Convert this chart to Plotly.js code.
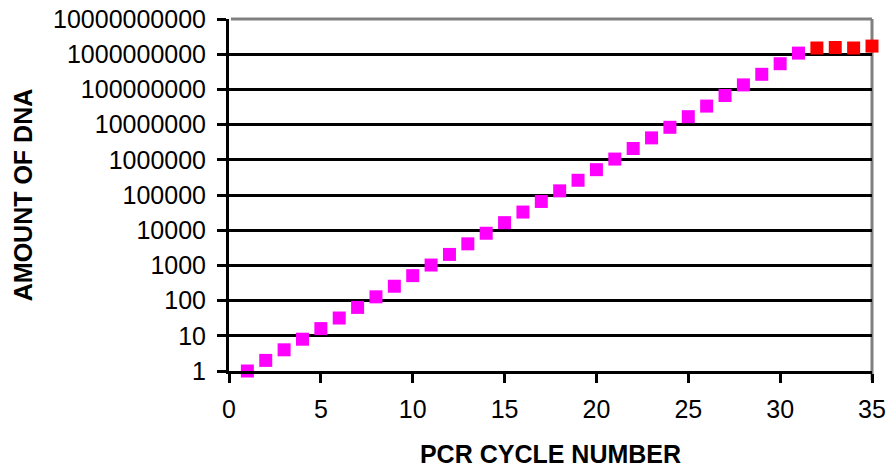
<!DOCTYPE html>
<html>
<head>
<meta charset="utf-8">
<script src="https://cdn.plot.ly/plotly-3.0.1.min.js"></script>
<style>html,body{margin:0;padding:0;background:#fff;}#chart{width:888px;height:468px;}</style>
</head>
<body>
<div id="chart"></div>
<script>
var cyclesExp = [1,2,3,4,5,6,7,8,9,10,11,12,13,14,15,16,17,18,19,20,21,22,23,24,25,26,27,28,29,30,31];
var amountExp = [1,2,4,8,16,32,64,128,256,512,1024,2048,4096,8192,16384,32768,65536,131072,262144,524288,1048576,2097152,4194304,8388608,16777216,33554432,67108864,134217728,268435456,536870912,1073741824];
var cyclesPlateau = [32,33,34,35];
var amountPlateau = [1500000000,1550000000,1500000000,1700000000];
var yTickVals = [1,10,100,1000,10000,100000,1000000,10000000,100000000,1000000000,10000000000];
var yTickText = ["1","10","100","1000","10000","100000","1000000","10000000","100000000","1000000000","10000000000"];
var xTickVals = [0,5,10,15,20,25,30,35];

var traces = [
  {x: cyclesExp, y: amountExp, type: 'scatter', mode: 'markers', cliponaxis: false,
   marker: {symbol: 'square', size: 13, color: '#FF00FF'}, hoverinfo: 'x+y'},
  {x: cyclesPlateau, y: amountPlateau, type: 'scatter', mode: 'markers', cliponaxis: false,
   marker: {symbol: 'square', size: 13, color: '#FF0000'}, hoverinfo: 'x+y'}
];

var font = {family: 'Arial, "Liberation Sans", sans-serif', size: 25, color: '#000'};

var layout = {
  width: 888, height: 468,
  margin: {l: 229, r: 16, t: 19, b: 97, pad: 0},
  paper_bgcolor: '#fff', plot_bgcolor: '#fff',
  showlegend: false,
  font: font,
  xaxis: {
    range: [0, 35], tickvals: xTickVals, ticktext: xTickVals.map(String),
    showgrid: false, zeroline: false,
    showline: true, linecolor: '#000', linewidth: 3,
    ticks: 'outside', ticklen: 9, tickwidth: 3, tickcolor: '#000',
    ticklabelstandoff: 5,
    tickfont: font,
    title: {text: '<b>PCR CYCLE NUMBER</b>', font: font, standoff: 27}
  },
  yaxis: {
    type: 'log', range: [0, 10], tickvals: yTickVals, ticktext: yTickText,
    showgrid: true, gridcolor: '#000', gridwidth: 3, zeroline: false,
    showline: true, linecolor: '#000', linewidth: 3,
    ticks: 'outside', ticklen: 9, tickwidth: 3, tickcolor: '#000',
    ticklabelstandoff: 6,
    tickfont: font,
    title: {text: '<b>AMOUNT OF DNA</b>', font: font, standoff: 14}
  },
  shapes: [
    {type: 'line', xref: 'paper', yref: 'paper', x0: 0.003, x1: 1, y0: 1, y1: 1,
     line: {color: '#808080', width: 3}, layer: 'above'},
    {type: 'line', xref: 'paper', yref: 'paper', x0: 1, x1: 1, y0: -0.026, y1: 1,
     line: {color: '#808080', width: 3}, layer: 'below'}
  ]
};

Plotly.newPlot('chart', traces, layout, {displayModeBar: false, staticPlot: true});
</script>
</body>
</html>
